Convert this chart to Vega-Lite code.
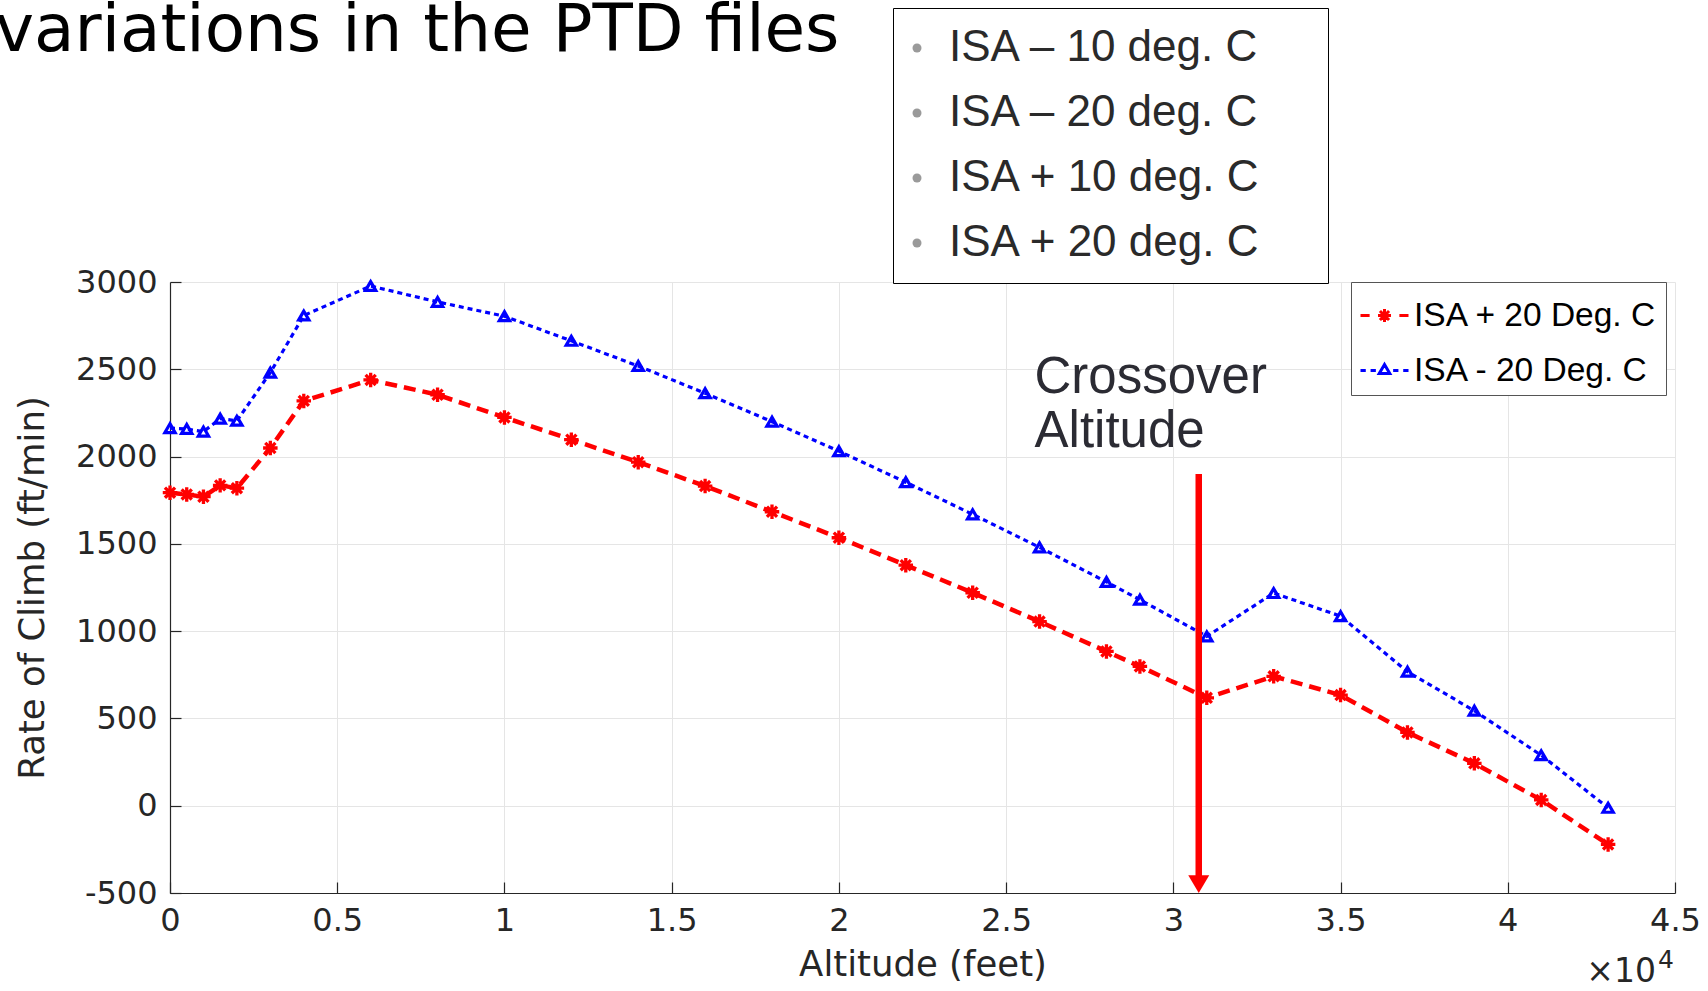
{
  "$schema": "https://vega.github.io/schema/vega-lite/v6.json",
  "width": 1505,
  "height": 611,
  "autosize": {"type": "none"},
  "padding": {"left": 170, "top": 282, "right": 33, "bottom": 98},
  "background": "#ffffff",
  "title": {
    "text": "variations in the PTD files",
    "anchor": "start",
    "frame": "group",
    "font": "DejaVu Sans",
    "fontSize": 66,
    "fontWeight": "normal",
    "color": "#000000",
    "dx": -175,
    "dy": 57,
    "offset": 0
  },
  "datasets": {
    "roc": [
      {"alt": 0, "roc": 1793, "series": "ISA + 20 Deg. C"},
      {"alt": 500, "roc": 1783, "series": "ISA + 20 Deg. C"},
      {"alt": 1000, "roc": 1770, "series": "ISA + 20 Deg. C"},
      {"alt": 1500, "roc": 1835, "series": "ISA + 20 Deg. C"},
      {"alt": 2000, "roc": 1819, "series": "ISA + 20 Deg. C"},
      {"alt": 3000, "roc": 2049, "series": "ISA + 20 Deg. C"},
      {"alt": 4000, "roc": 2319, "series": "ISA + 20 Deg. C"},
      {"alt": 6000, "roc": 2439, "series": "ISA + 20 Deg. C"},
      {"alt": 8000, "roc": 2354, "series": "ISA + 20 Deg. C"},
      {"alt": 10000, "roc": 2224, "series": "ISA + 20 Deg. C"},
      {"alt": 12000, "roc": 2097, "series": "ISA + 20 Deg. C"},
      {"alt": 14000, "roc": 1968, "series": "ISA + 20 Deg. C"},
      {"alt": 16000, "roc": 1831, "series": "ISA + 20 Deg. C"},
      {"alt": 18000, "roc": 1684, "series": "ISA + 20 Deg. C"},
      {"alt": 20000, "roc": 1535, "series": "ISA + 20 Deg. C"},
      {"alt": 22000, "roc": 1378, "series": "ISA + 20 Deg. C"},
      {"alt": 24000, "roc": 1220, "series": "ISA + 20 Deg. C"},
      {"alt": 26000, "roc": 1055, "series": "ISA + 20 Deg. C"},
      {"alt": 28000, "roc": 884, "series": "ISA + 20 Deg. C"},
      {"alt": 29000, "roc": 798, "series": "ISA + 20 Deg. C"},
      {"alt": 31000, "roc": 618, "series": "ISA + 20 Deg. C"},
      {"alt": 33000, "roc": 741, "series": "ISA + 20 Deg. C"},
      {"alt": 35000, "roc": 634, "series": "ISA + 20 Deg. C"},
      {"alt": 37000, "roc": 420, "series": "ISA + 20 Deg. C"},
      {"alt": 39000, "roc": 243, "series": "ISA + 20 Deg. C"},
      {"alt": 41000, "roc": 33, "series": "ISA + 20 Deg. C"},
      {"alt": 43000, "roc": -222, "series": "ISA + 20 Deg. C"},
      {"alt": 0, "roc": 2163, "series": "ISA - 20 Deg. C"},
      {"alt": 500, "roc": 2158, "series": "ISA - 20 Deg. C"},
      {"alt": 1000, "roc": 2143, "series": "ISA - 20 Deg. C"},
      {"alt": 1500, "roc": 2217, "series": "ISA - 20 Deg. C"},
      {"alt": 2000, "roc": 2205, "series": "ISA - 20 Deg. C"},
      {"alt": 3000, "roc": 2481, "series": "ISA - 20 Deg. C"},
      {"alt": 4000, "roc": 2808, "series": "ISA - 20 Deg. C"},
      {"alt": 6000, "roc": 2977, "series": "ISA - 20 Deg. C"},
      {"alt": 8000, "roc": 2886, "series": "ISA - 20 Deg. C"},
      {"alt": 10000, "roc": 2804, "series": "ISA - 20 Deg. C"},
      {"alt": 12000, "roc": 2663, "series": "ISA - 20 Deg. C"},
      {"alt": 14000, "roc": 2519, "series": "ISA - 20 Deg. C"},
      {"alt": 16000, "roc": 2363, "series": "ISA - 20 Deg. C"},
      {"alt": 18000, "roc": 2200, "series": "ISA - 20 Deg. C"},
      {"alt": 20000, "roc": 2031, "series": "ISA - 20 Deg. C"},
      {"alt": 22000, "roc": 1853, "series": "ISA - 20 Deg. C"},
      {"alt": 24000, "roc": 1669, "series": "ISA - 20 Deg. C"},
      {"alt": 26000, "roc": 1480, "series": "ISA - 20 Deg. C"},
      {"alt": 28000, "roc": 1282, "series": "ISA - 20 Deg. C"},
      {"alt": 29000, "roc": 1180, "series": "ISA - 20 Deg. C"},
      {"alt": 31000, "roc": 970, "series": "ISA - 20 Deg. C"},
      {"alt": 33000, "roc": 1218, "series": "ISA - 20 Deg. C"},
      {"alt": 35000, "roc": 1086, "series": "ISA - 20 Deg. C"},
      {"alt": 37000, "roc": 768, "series": "ISA - 20 Deg. C"},
      {"alt": 39000, "roc": 544, "series": "ISA - 20 Deg. C"},
      {"alt": 41000, "roc": 289, "series": "ISA - 20 Deg. C"},
      {"alt": 43000, "roc": -12, "series": "ISA - 20 Deg. C"}
    ],
    "variations": [
      {"variation": "ISA – 10 deg. C"},
      {"variation": "ISA – 20 deg. C"},
      {"variation": "ISA + 10 deg. C"},
      {"variation": "ISA + 20 deg. C"}
    ],
    "notes": [
      {"alt": 25850, "roc": 2364, "note": "Crossover\nAltitude"}
    ],
    "arrow": [
      {"alt": 30760, "top": 1900, "base": -420, "tip": -500}
    ],
    "multiplier": [
      {"alt": 45000, "roc": -500, "mantissa": "×10", "power": "4"}
    ]
  },
  "encoding": {
    "x": {
      "field": "alt",
      "type": "quantitative",
      "scale": {"domain": [0, 45000], "nice": false, "zero": false},
      "axis": {
        "title": "Altitude (feet)",
        "values": [0, 5000, 10000, 15000, 20000, 25000, 30000, 35000, 40000, 45000],
        "labelExpr": "'' + datum.value / 10000"
      }
    },
    "y": {
      "field": "roc",
      "type": "quantitative",
      "scale": {"domain": [-500, 3000], "nice": false, "zero": false},
      "axis": {
        "title": "Rate of Climb (ft/min)",
        "values": [-500, 0, 500, 1000, 1500, 2000, 2500, 3000],
        "labelExpr": "'' + datum.value"
      }
    }
  },
  "layer": [
    {
      "data": {"name": "roc"},
      "transform": [{"filter": "datum.series === 'ISA + 20 Deg. C'"}],
      "mark": {"type": "line", "strokeDash": [12, 7], "strokeWidth": 4.5},
      "encoding": {
        "color": {
          "field": "series",
          "type": "nominal",
          "scale": {"domain": ["ISA + 20 Deg. C", "ISA - 20 Deg. C"], "range": ["#ff0000", "#0000ff"]},
          "legend": {
            "title": null,
            "orient": "none",
            "legendX": 1181,
            "legendY": 0,
            "direction": "vertical",
            "padding": 8,
            "fillColor": "#ffffff",
            "strokeColor": "#555555",
            "labelFont": "Liberation Sans",
            "labelFontSize": 33.5,
            "labelColor": "#000000",
            "labelOffset": 4,
            "labelLimit": 1000,
            "rowPadding": 13,
            "symbolSize": 2304,
            "symbolStrokeWidth": 3,
            "encode": {
              "symbols": {
                "update": {
                  "shape": {"signal": "datum.value === 'ISA + 20 Deg. C' ? 'M-1,0H-0.62M0.62,0H1M-0.27,0H0.27M0,-0.27V0.27M-0.19,-0.19L0.19,0.19M-0.19,0.19L0.19,-0.19' : 'M-1,0H-0.78M-0.58,0H-0.36M0.36,0H0.58M0.78,0H1M0,-0.25L-0.22,0.13L0.22,0.13Z'"},
                  "fill": {"value": "transparent"},
                  "strokeDash": {"value": []},
                  "opacity": {"value": 1},
                  "strokeWidth": {"value": 3}
                }
              }
            }
          }
        }
      }
    },
    {
      "data": {"name": "roc"},
      "transform": [{"filter": "datum.series === 'ISA - 20 Deg. C'"}],
      "mark": {"type": "line", "strokeDash": [5, 4], "strokeWidth": 3.2},
      "encoding": {"color": {"field": "series", "type": "nominal"}}
    },
    {
      "data": {"name": "roc"},
      "transform": [{"filter": "datum.series === 'ISA + 20 Deg. C'"}],
      "mark": {
        "type": "point",
        "shape": "M-1,0L1,0M0,-1L0,1M-0.7,-0.7L0.7,0.7M-0.7,0.7L0.7,-0.7",
        "filled": false,
        "size": 210,
        "strokeWidth": 3.3,
        "opacity": 1
      },
      "encoding": {"color": {"field": "series", "type": "nominal"}}
    },
    {
      "data": {"name": "roc"},
      "transform": [{"filter": "datum.series === 'ISA - 20 Deg. C'"}],
      "mark": {
        "type": "point",
        "shape": "triangle-up",
        "filled": false,
        "size": 105,
        "strokeWidth": 3.2,
        "opacity": 1
      },
      "encoding": {"color": {"field": "series", "type": "nominal"}}
    },
    {
      "data": {"name": "arrow"},
      "mark": {"type": "rule", "color": "#ff0000", "strokeWidth": 6.5},
      "encoding": {
        "y": {"field": "top", "type": "quantitative"},
        "y2": {"field": "base"}
      }
    },
    {
      "data": {"name": "arrow"},
      "mark": {
        "type": "point",
        "shape": "M-1,-1.7L1,-1.7L0,0Z",
        "filled": true,
        "color": "#ff0000",
        "size": 441,
        "opacity": 1
      },
      "encoding": {
        "y": {"field": "tip", "type": "quantitative"}
      }
    },
    {
      "data": {"name": "notes"},
      "mark": {
        "type": "text",
        "align": "left",
        "baseline": "alphabetic",
        "font": "Liberation Sans",
        "fontSize": 51,
        "lineBreak": "\n",
        "lineHeight": 54,
        "color": "#2b2b33"
      },
      "encoding": {"text": {"field": "note", "type": "nominal"}}
    },
    {
      "data": {"name": "multiplier"},
      "mark": {
        "type": "text",
        "align": "right",
        "baseline": "alphabetic",
        "font": "DejaVu Sans",
        "fontSize": 33,
        "dx": -19,
        "dy": 89,
        "color": "#262626"
      },
      "encoding": {"text": {"field": "mantissa", "type": "nominal"}}
    },
    {
      "data": {"name": "multiplier"},
      "mark": {
        "type": "text",
        "align": "left",
        "baseline": "alphabetic",
        "font": "DejaVu Sans",
        "fontSize": 25,
        "dx": -17,
        "dy": 75,
        "color": "#262626"
      },
      "encoding": {"text": {"field": "power", "type": "nominal"}}
    },
    {
      "data": {"name": "variations"},
      "mark": {"type": "point", "filled": true, "opacity": 0, "color": "#9a9a9a"},
      "encoding": {
        "shape": {
          "field": "variation",
          "type": "nominal",
          "scale": {
            "domain": ["ISA – 10 deg. C", "ISA – 20 deg. C", "ISA + 10 deg. C", "ISA + 20 deg. C"],
            "range": ["circle", "circle", "circle", "circle"]
          },
          "legend": {
            "title": null,
            "orient": "none",
            "legendX": 723,
            "legendY": -274,
            "direction": "vertical",
            "padding": 18,
            "fillColor": "#ffffff",
            "strokeColor": "#000000",
            "labelFont": "Liberation Sans",
            "labelFontSize": 44,
            "labelColor": "#2a2a2a",
            "labelOffset": 10,
            "symbolOffset": -16,
            "labelLimit": 1000,
            "rowPadding": 21,
            "symbolSize": 81,
            "symbolStrokeWidth": 0,
            "labelExpr": "datum.label + '\u00a0\u00a0\u00a0\u00a0\u200b'",
            "encode": {
              "symbols": {
                "update": {
                  "fill": {"value": "#9a9a9a"},
                  "stroke": {"value": "transparent"},
                  "opacity": {"value": 1}
                }
              },
              "legend": {
                "update": {"strokeWidth": {"value": 2}}
              }
            }
          }
        }
      }
    }
  ],
  "config": {
    "view": {"stroke": null},
    "font": "Liberation Sans",
    "axis": {
      "labelFont": "DejaVu Sans",
      "labelFontSize": 32,
      "labelColor": "#262626",
      "titleFont": "DejaVu Sans",
      "titleFontSize": 35.5,
      "titleFontWeight": "normal",
      "titleColor": "#262626",
      "gridColor": "#e5e5e5",
      "gridWidth": 1,
      "domainColor": "#262626",
      "domainWidth": 1.2,
      "tickColor": "#262626",
      "tickWidth": 1.2,
      "tickSize": -11,
      "labelFlush": false,
      "labelOverlap": false
    },
    "axisX": {"labelPadding": 23, "titlePadding": 11},
    "axisY": {"labelPadding": 24, "titlePadding": 25}
  }
}
